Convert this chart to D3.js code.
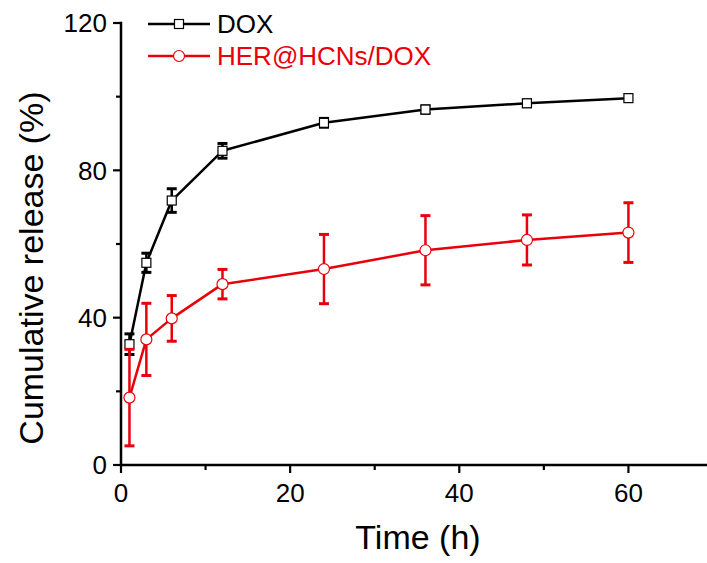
<!DOCTYPE html>
<meta charset="utf-8">
<title>Cumulative release</title>
<style>
body {
  margin: 0;
  background: #fff;
}
text {
  font-family: Arial, "Liberation Sans", sans-serif;
}
</style>
<svg></svg>
<script src="https://cdn.jsdelivr.net/npm/d3@7"></script>
<script>
// time points (h)
var times = [1, 3, 6, 12, 24, 36, 48, 60];
// DOX release (%) and errors
var doxValues = [32.8, 54.9, 71.8, 85.3, 92.9, 96.5, 98.2, 99.6];
var doxErrors = [2.8, 2.6, 3.2, 2.0, 1.2, 1.0, 0.9, 0.0];
// HER@HCNs/DOX release (%) and errors
var herValues = [18.3, 34.1, 39.8, 49.1, 53.2, 58.3, 61.1, 63.1];
var herErrors = [13.1, 9.8, 6.2, 4.0, 9.4, 9.4, 6.8, 8.1];

var seriesNames = ["DOX", "HER@HCNs/DOX"];
var yTicks = [0, 40, 80, 120];
var xTicks = [0, 20, 40, 60];

var width = 707,
    height = 563;
var red = "#e8000b";

var svg = d3.select("svg")
    .attr("width", width)
    .attr("height", height);

var x = d3.scaleLinear()
    .domain([0, 70])
    .range([121, 713]);
var y = d3.scaleLinear()
    .domain([0, 120])
    .range([465, 23]);

// axes
var axisG = svg.append("g");
axisG.append("line")
    .attr("x1", x(0)).attr("x2", width)
    .attr("y1", y(0)).attr("y2", y(0))
    .attr("stroke", "#000").attr("stroke-width", 2.5);
axisG.append("line")
    .attr("x1", x(0)).attr("x2", x(0))
    .attr("y1", y(0) + 1.2).attr("y2", y(120) - 1.2)
    .attr("stroke", "#000").attr("stroke-width", 2.5);

// x ticks (major + minor)
d3.range(0, 71, 10).forEach(function(t) {
  var major = t % 20 == 0;
  axisG.append("line")
      .attr("x1", x(t)).attr("x2", x(t))
      .attr("y1", y(0)).attr("y2", y(0) + (major ? 8 : 5))
      .attr("stroke", "#000").attr("stroke-width", 2.2);
});
axisG.selectAll(".xl")
    .data(xTicks)
  .enter().append("text")
    .attr("x", function(d) { return x(d); })
    .attr("y", 502)
    .attr("text-anchor", "middle")
    .style("font-size", "26px")
    .text(function(d) { return d; });

// y ticks
d3.range(0, 121, 20).forEach(function(v) {
  var major = v % 40 == 0;
  axisG.append("line")
      .attr("x1", x(0)).attr("x2", x(0) - (major ? 8 : 5))
      .attr("y1", y(v)).attr("y2", y(v))
      .attr("stroke", "#000").attr("stroke-width", 2.2);
});
axisG.selectAll(".yl")
    .data(yTicks)
  .enter().append("text")
    .attr("x", 107)
    .attr("y", function(d) { return y(d) + 9.3; })
    .attr("text-anchor", "end")
    .style("font-size", "26px")
    .text(function(d) { return d; });

// axis titles
svg.append("text")
    .attr("x", 418)
    .attr("y", 549)
    .attr("text-anchor", "middle")
    .style("font-size", "34px")
    .text("Time (h)");
svg.append("text")
    .attr("transform", "translate(43,268) rotate(-90)")
    .attr("text-anchor", "middle")
    .style("font-size", "34px")
    .text("Cumulative release (%)");

var line = d3.line()
    .x(function(d) { return x(d.t); })
    .y(function(d) { return y(d.v); });

function drawSeries(values, errors, color, shape) {
  var data = times.map(function(t, i) { return {t: t, v: values[i], e: errors[i]}; });
  var g = svg.append("g");
  // error bars
  data.forEach(function(d) {
    if (d.e <= 0) return;
    g.append("line")
        .attr("x1", x(d.t)).attr("x2", x(d.t))
        .attr("y1", y(d.v - d.e)).attr("y2", y(d.v + d.e))
        .attr("stroke", color).attr("stroke-width", 2.5);
    [d.v - d.e, d.v + d.e].forEach(function(v) {
      g.append("line")
          .attr("x1", x(d.t) - 5).attr("x2", x(d.t) + 5)
          .attr("y1", y(v)).attr("y2", y(v))
          .attr("stroke", color).attr("stroke-width", 3);
    });
  });
  g.append("path")
      .datum(data)
      .attr("d", line)
      .attr("fill", "none")
      .attr("stroke", color)
      .attr("stroke-width", 2.5)
      .attr("stroke-linejoin", "round");
  data.forEach(function(d) {
    drawMarker(g, x(d.t), y(d.v), color, shape);
  });
}

function drawMarker(g, cx, cy, color, shape) {
  if (shape == "square") {
    g.append("rect")
        .attr("x", cx - 4.5).attr("y", cy - 4.5)
        .attr("width", 9).attr("height", 9)
        .attr("fill", "#fff")
        .attr("stroke", color).attr("stroke-width", 1.2);
  } else {
    g.append("circle")
        .attr("cx", cx).attr("cy", cy).attr("r", 5.5)
        .attr("fill", "#fff")
        .attr("stroke", color).attr("stroke-width", 1.2);
  }
}

drawSeries(doxValues, doxErrors, "#000", "square");
drawSeries(herValues, herErrors, red, "circle");

// legend
var legend = svg.append("g");
[{name: seriesNames[0], color: "#000", shape: "square", y: 24},
 {name: seriesNames[1], color: red, shape: "circle", y: 56}].forEach(function(d) {
  legend.append("line")
      .attr("x1", 148).attr("x2", 210)
      .attr("y1", d.y).attr("y2", d.y)
      .attr("stroke", d.color).attr("stroke-width", 2.5);
  drawMarker(legend, 179, d.y, d.color, d.shape);
  legend.append("text")
      .attr("x", 217)
      .attr("y", d.y + 9)
      .attr("fill", d.color)
      .style("font-size", "26px")
      .text(d.name);
});
</script>
